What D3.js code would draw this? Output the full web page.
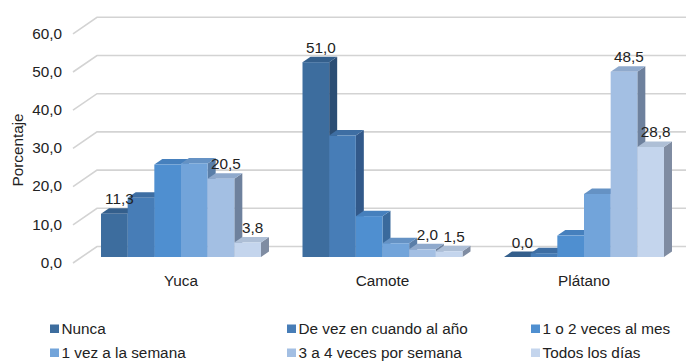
<!DOCTYPE html>
<html>
<head>
<meta charset="utf-8">
<script src="https://cdn.jsdelivr.net/npm/d3@7"></script>
<style>
  body { margin: 0; background: #fff; }
  svg text { font-family: "Liberation Sans", Arial, sans-serif; fill: #222; }
</style>
</head>
<body>
<svg id="chart" width="686" height="363"></svg>
<script>
const categories = ["Yuca", "Camote", "Plátano"];
const series = [
  "Nunca",
  "De vez en cuando al año",
  "1 o 2 veces al mes",
  "1 vez a la semana",
  "3 a 4 veces por semana",
  "Todos los días"
];
// values[serie][categoria]
const nunca = [11.3, 51.0, 0.0];
const deVez = [15.5, 31.8, 1.0];
const unoDos = [24.2, 10.7, 5.6];
const unaVez = [24.5, 3.6, 16.5];
const tresCuatro = [20.5, 2.0, 48.5];
const todos = [3.8, 1.5, 28.8];
const values = [nunca, deVez, unoDos, unaVez, tresCuatro, todos];
const labelledSeries = [0, 4, 5];
const yTicks = [0, 10, 20, 30, 40, 50, 60];

const colors = ["#3d6d9e", "#477db7", "#4f8fd0", "#72a4da", "#a3bfe3", "#c4d5ed"];
const sideColors = ["#2c4e74", "#32598a", "#3a6a9c", "#5a7ea8", "#6e819d", "#7f8ca2"];
const topColors = ["#345f8c", "#3e6ea3", "#4680bd", "#6592c4", "#8fa9cc", "#aebfd6"];

const svg = d3.select("#chart");
const fmt = v => v.toFixed(1).replace(".", ",");
const fs = "15.3px";

const depth = { dx: 8, dy: 5.5 };

const x0 = d3.scaleBand()
  .domain(categories)
  .range([80.25, 684.75])
  .paddingInner(0.206)
  .paddingOuter(0.103);

const x1 = d3.scaleBand()
  .domain(d3.range(series.length))
  .range([0, x0.bandwidth()]);

const y = d3.scaleLinear().domain([0, 60]).range([257, 257 - 60 * 3.82]);

// back wall gridlines
const grid = svg.append("g");
yTicks.forEach(t => {
  const yf = y(t) + 6, yb = y(t) - 10.5;
  grid.append("path")
    .attr("d", `M73,${yf}L97,${yb}L686,${yb}`)
    .attr("fill", "none")
    .attr("stroke", "#d3d3d3")
    .attr("stroke-width", 1.6);
});

// y axis labels
svg.append("g").selectAll("text")
  .data(yTicks)
  .join("text")
  .attr("x", 62)
  .attr("y", d => y(d) + 5.5)
  .attr("dy", "0.35em")
  .attr("text-anchor", "end")
  .style("font-size", fs)
  .text(fmt);

svg.append("text")
  .attr("transform", "translate(22.5,150) rotate(-90)")
  .attr("text-anchor", "middle")
  .style("font-size", fs)
  .text("Porcentaje");

// bars (left to right so the next front face hides the previous side)
const bars = svg.append("g");
categories.forEach((c, ci) => {
  series.forEach((s, si) => {
    const v = values[si][ci];
    const xl = x0(c) + x1(si), xr = xl + x1.bandwidth();
    const yt = y(v), yb = y(0);
    const { dx, dy } = depth;
    bars.append("path")
      .attr("d", `M${xr},${yt}L${xr + dx},${yt - dy}L${xr + dx},${yb - dy}L${xr},${yb}Z`)
      .attr("fill", sideColors[si]);
    bars.append("path")
      .attr("d", `M${xl},${yt}L${xl + dx},${yt - dy}L${xr + dx},${yt - dy}L${xr},${yt}Z`)
      .attr("fill", topColors[si]);
    bars.append("rect")
      .attr("x", xl)
      .attr("y", yt)
      .attr("width", x1.bandwidth())
      .attr("height", yb - yt)
      .attr("fill", colors[si]);
  });
});

// data labels
const labels = svg.append("g");
categories.forEach((c, ci) => {
  labelledSeries.forEach(si => {
    const v = values[si][ci];
    labels.append("text")
      .attr("x", x0(c) + x1(si) + x1.bandwidth() / 2 + 5)
      .attr("y", y(v) - 9.5)
      .attr("text-anchor", "middle")
      .style("font-size", fs)
      .text(fmt(v));
  });
});

// category labels
svg.append("g").selectAll("text")
  .data(categories)
  .join("text")
  .attr("x", d => x0(d) + x0.bandwidth() / 2)
  .attr("y", 285.5)
  .attr("text-anchor", "middle")
  .style("font-size", fs)
  .text(d => d);

// legend
const legCols = [50, 287, 531], legRows = [329, 353];
const legend = svg.append("g").selectAll("g")
  .data(series)
  .join("g")
  .attr("transform", (d, i) => `translate(${legCols[i % 3]},${legRows[Math.floor(i / 3)]})`);
legend.append("rect")
  .attr("x", 0).attr("y", -4.5)
  .attr("width", 9).attr("height", 8.5)
  .attr("fill", (d, i) => colors[i]);
legend.append("text")
  .attr("x", 11.5)
  .attr("dy", "0.35em")
  .style("font-size", fs)
  .text(d => d);
</script>
</body>
</html>
